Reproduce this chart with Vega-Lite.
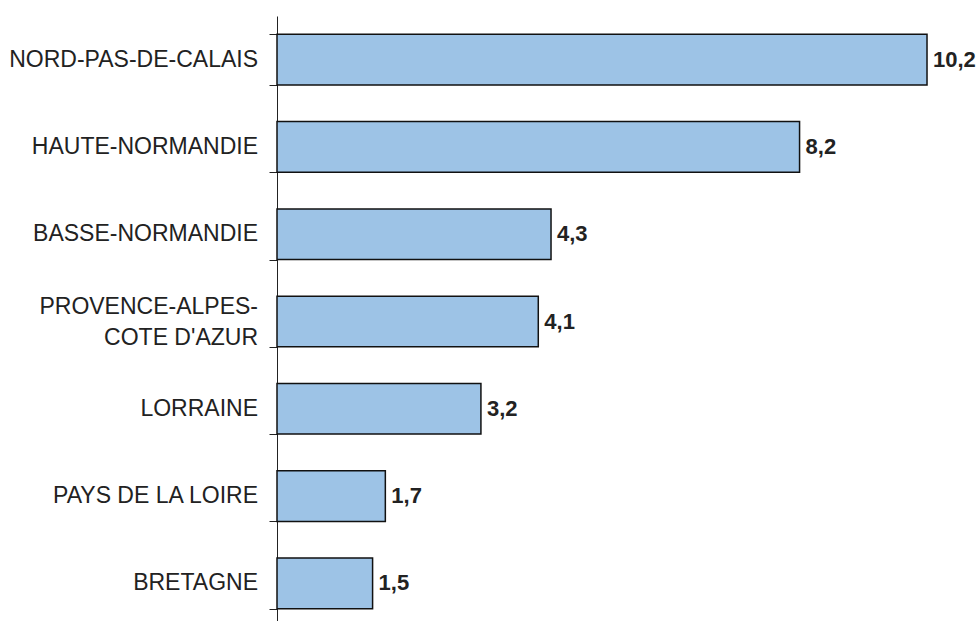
{
  "$schema": "https://vega.github.io/schema/vega-lite/v6.json",
  "width": 701,
  "height": 611,
  "autosize": "none",
  "padding": {"left": 277, "top": 16, "right": 0, "bottom": 0},
  "background": "white",
  "config": {
    "view": {"stroke": null},
    "locale": {"number": {"decimal": ",", "thousands": " ", "grouping": [3], "currency": ["", " €"]}}
  },
  "data": {
    "values": [
      {"region": "NORD-PAS-DE-CALAIS", "value": 10.2},
      {"region": "HAUTE-NORMANDIE", "value": 8.2},
      {"region": "BASSE-NORMANDIE", "value": 4.3},
      {"region": "PROVENCE-ALPES-|COTE D'AZUR", "value": 4.1},
      {"region": "LORRAINE", "value": 3.2},
      {"region": "PAYS DE LA LOIRE", "value": 1.7},
      {"region": "BRETAGNE", "value": 1.5}
    ]
  },
  "encoding": {
    "y": {
      "field": "region",
      "type": "nominal",
      "sort": null,
      "scale": {"paddingInner": 0.42, "paddingOuter": 0.21},
      "axis": {
        "title": null,
        "tickBand": "extent",
        "tickSize": 8,
        "tickColor": "#222222",
        "domainColor": "#222222",
        "labels": false
      }
    }
  },
  "layer": [
    {
      "mark": {"type": "bar", "fill": "#9DC3E6", "stroke": "#111111", "strokeWidth": 1.5},
      "encoding": {
        "x": {"field": "value", "type": "quantitative", "scale": {"domain": [0, 11]}, "axis": null}
      }
    },
    {
      "mark": {"type": "text", "align": "left", "dx": 6, "font": "Liberation Sans", "fontSize": 22, "fontWeight": "bold", "fill": "#222222"},
      "encoding": {
        "x": {"field": "value", "type": "quantitative"},
        "text": {"field": "value", "type": "quantitative", "format": ".1f"}
      }
    },
    {
      "transform": [{"filter": "indexof(datum.region, '|') < 0"}],
      "mark": {"type": "text", "align": "right", "baseline": "middle", "dx": -19, "font": "Liberation Sans", "fontSize": 23, "fill": "#222222"},
      "encoding": {
        "x": {"datum": 0, "type": "quantitative"},
        "text": {"field": "region"}
      }
    },
    {
      "transform": [{"filter": "indexof(datum.region, '|') >= 0"}],
      "mark": {"type": "text", "align": "right", "baseline": "middle", "dx": -19, "dy": -15, "lineBreak": "|", "lineHeight": 31, "font": "Liberation Sans", "fontSize": 23, "fill": "#222222"},
      "encoding": {
        "x": {"datum": 0, "type": "quantitative"},
        "text": {"field": "region"}
      }
    }
  ]
}
